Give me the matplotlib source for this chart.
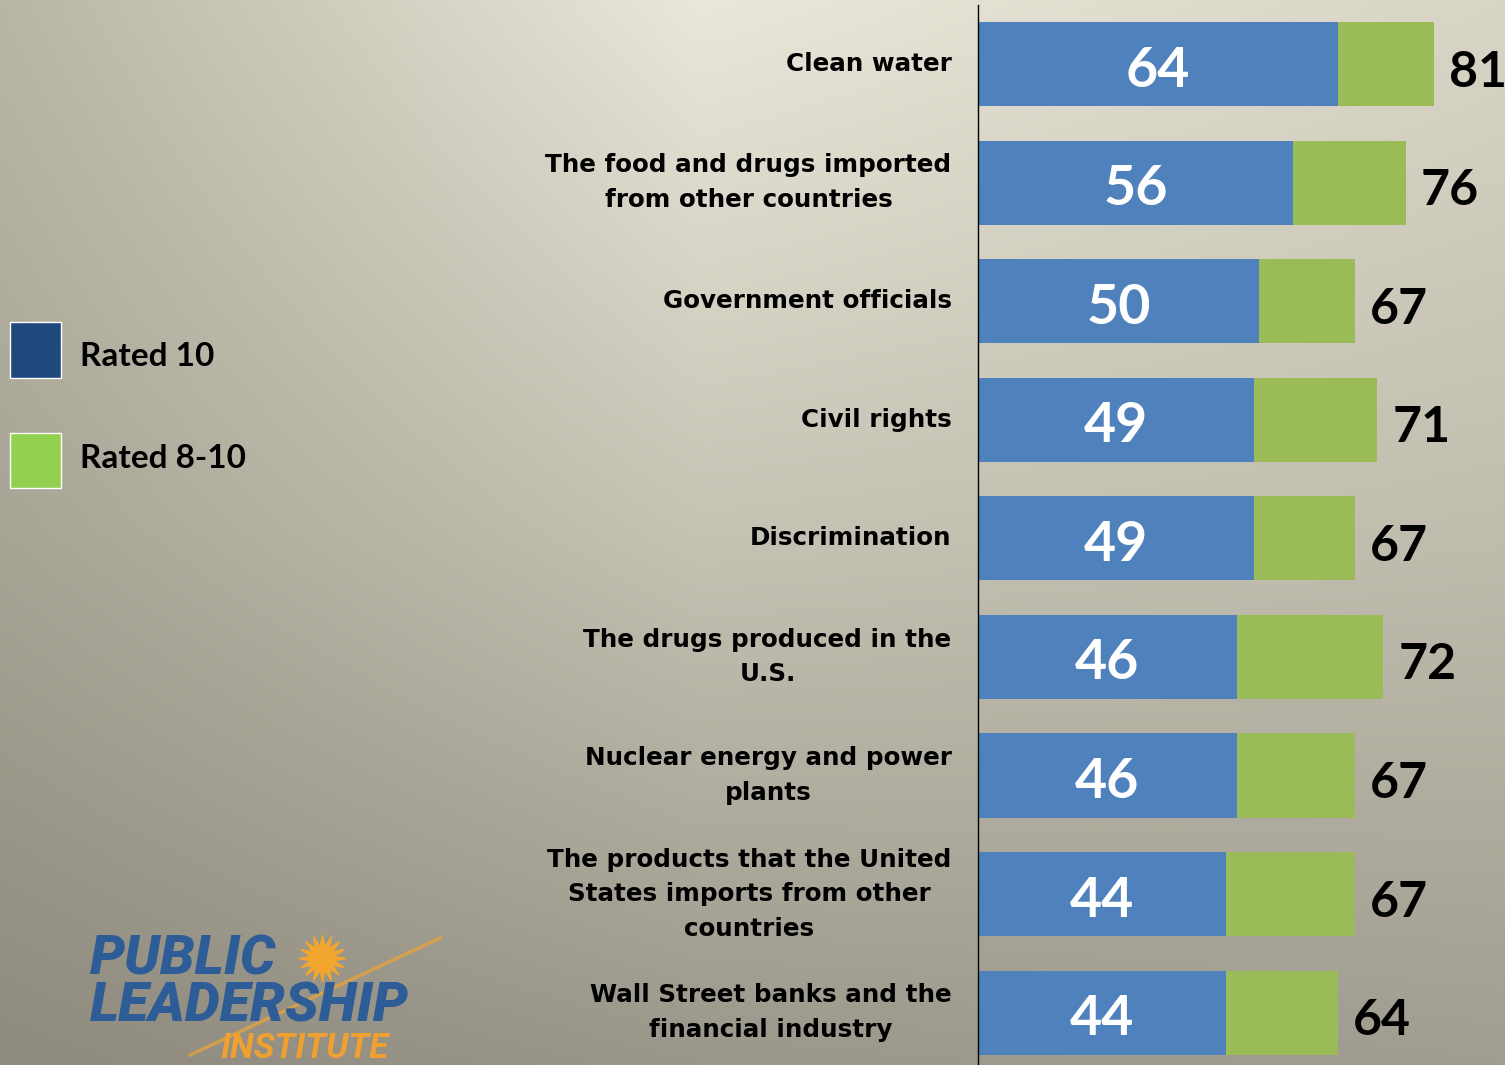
import numpy as np
import matplotlib.pyplot as plt
from matplotlib.patches import Rectangle

# data
categories = [
    "Clean water",
    "The food and drugs imported\nfrom other countries",
    "Government officials",
    "Civil rights",
    "Discrimination",
    "The drugs produced in the\nU.S.",
    "Nuclear energy and power\nplants",
    "The products that the United\nStates imports from other\ncountries",
    "Wall Street banks and the\nfinancial industry",
]
rated_10 = [64, 56, 50, 49, 49, 46, 46, 44, 44]
rated_8_10 = [81, 76, 67, 71, 67, 72, 67, 67, 64]

W, H = 1505, 1065
fig = plt.figure(figsize=(W / 100, H / 100), dpi=100)

# background gradient (slide style)
bg = fig.add_axes([0, 0, 1, 1])
bg.set_xlim(0, W)
bg.set_ylim(H, 0)
bg.axis("off")
cx = [0, 700, W]
cy = [0, 530, H]
ctrl = np.array([
    [[0xB9, 0xB6, 0xA7], [0xEA, 0xE7, 0xDA], [0xD8, 0xD5, 0xC6]],
    [[0xA8, 0xA5, 0x97], [0xC6, 0xC3, 0xB5], [0xC0, 0xBD, 0xAF]],
    [[0x8E, 0x8B, 0x7E], [0x9B, 0x98, 0x8B], [0xA1, 0x9E, 0x91]],
]) / 255.0
gx = np.linspace(0, W, 151)
gy = np.linspace(0, H, 107)
img = np.zeros((len(gy), len(gx), 3))
for c in range(3):
    rows = np.array([np.interp(gx, cx, ctrl[r, :, c]) for r in range(3)])
    for j in range(len(gx)):
        img[:, j, c] = np.interp(gy, cy, rows[:, j])
bg.imshow(img, extent=(0, W, H, 0), aspect="auto", interpolation="bilinear", zorder=0)

# legend
bg.add_patch(Rectangle((10, 322), 51, 56, facecolor="#1F497D", edgecolor="white", lw=1))
bg.add_patch(Rectangle((10, 433), 51, 55, facecolor="#92D050", edgecolor="white", lw=1))
bg.text(80, 356, "Rated 10", va="center", fontsize=24, fontweight="bold", family="Lato")
bg.text(80, 458, "Rated 8-10", va="center", fontsize=24, fontweight="bold", family="Lato")

# logo
bg.plot([190, 440], [1055, 938], color="#E8A33A", lw=2.5, alpha=0.75)
bg.plot(322, 958, marker=(16, 1, 0), ms=34, color="#F2A62E", mec="#F2A62E")
bg.text(90, 1022, "PUBLIC\nLEADERSHIP", fontsize=40, fontweight="heavy", fontstyle="italic",
        family="Roboto", color="#2E5C96", va="baseline", linespacing=0.88)
bg.text(220, 1065, "INSTITUTE", fontsize=25, fontweight="bold", fontstyle="italic",
        family="Roboto", color="#F0A030", va="bottom")

# bar chart
top_px, bot_px = 4.75, 1072.0
ax = fig.add_axes([978 / W, (H - bot_px) / H, (W - 978) / W, (bot_px - top_px) / H])
ax.patch.set_alpha(0)
y = np.arange(len(categories))
ax.barh(y, rated_8_10, height=0.71, color="#9BBB59")
ax.barh(y, rated_10, height=0.71, color="#4F81BD")
ax.set_xlim(0, (W - 978) / 5.625)
ax.set_ylim(len(categories) - 0.5, -0.5)
for s in ["top", "right", "bottom"]:
    ax.spines[s].set_visible(False)
ax.spines["left"].set_color("black")
ax.spines["left"].set_linewidth(1)
ax.set_xticks([])
ax.set_yticks(y)
ax.set_yticklabels(categories, fontsize=17.7, fontweight="bold", family="DejaVu Sans",
                   multialignment="center", linespacing=1.55)
ax.tick_params(axis="y", length=0, pad=19)
for lab in ax.get_yticklabels():
    lab.set_verticalalignment("center")

for i in range(len(categories)):
    ax.text(rated_10[i] / 2, i + 0.19, str(rated_10[i]), color="white", ha="center",
            va="baseline", fontsize=40, fontweight="bold", family="Lato")
    ax.text(rated_8_10[i] + 2.7, i + 0.19, str(rated_8_10[i]), color="black", ha="left",
            va="baseline", fontsize=36, fontweight="bold", family="Lato")

fig.savefig("out.png", dpi=100)
